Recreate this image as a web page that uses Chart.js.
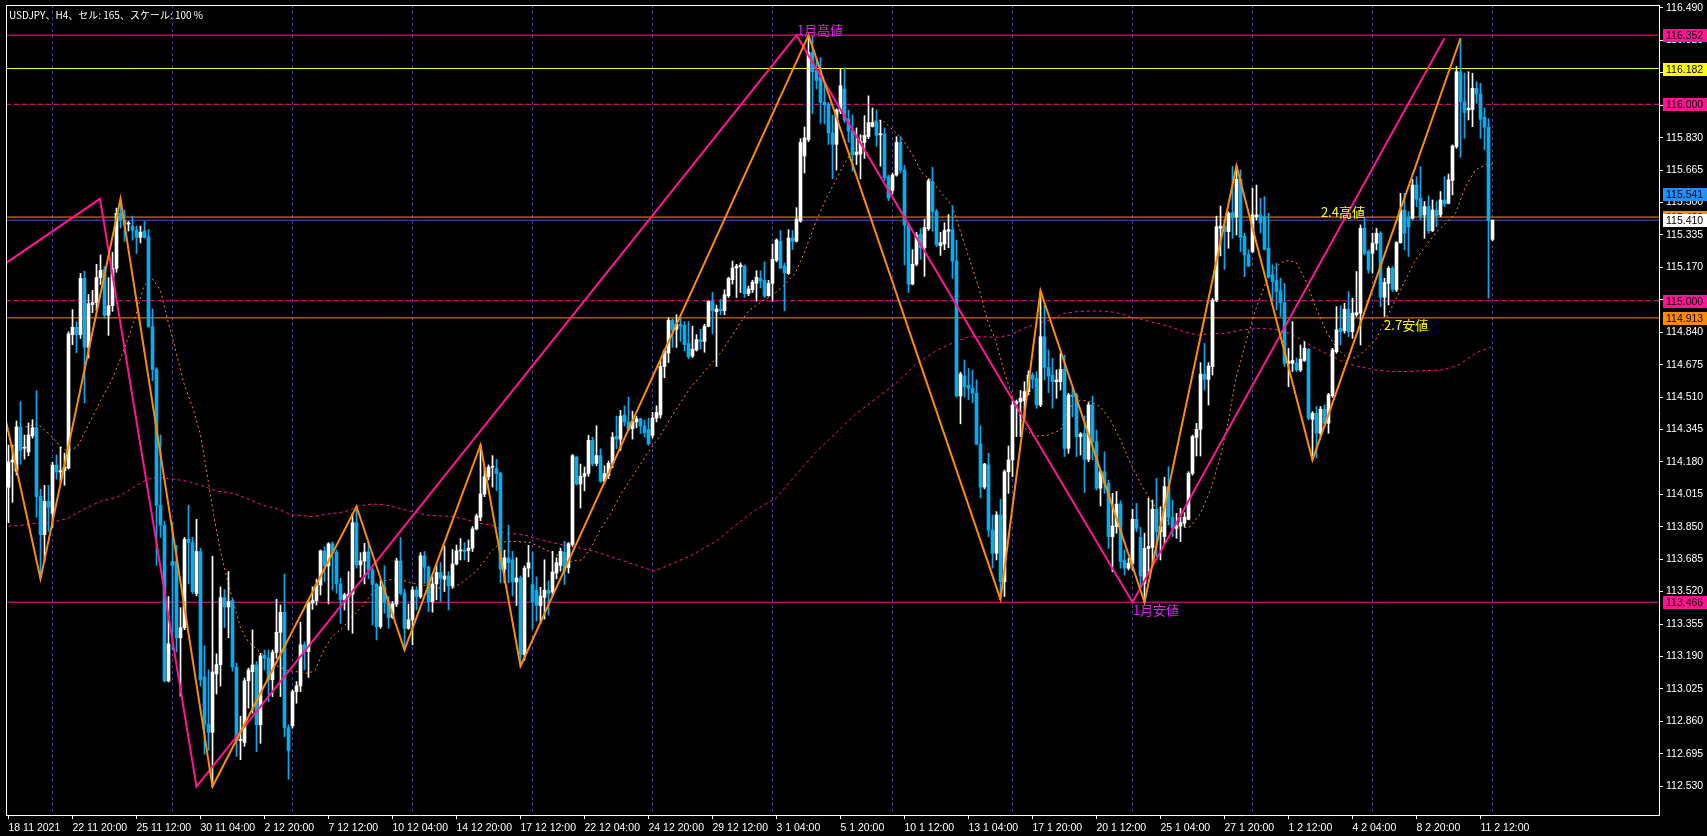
<!DOCTYPE html>
<html>
<head>
<meta charset="utf-8">
<script src="https://cdn.jsdelivr.net/npm/chart.js@4.4.0/dist/chart.umd.min.js"></script>
<style>
  html, body { margin: 0; padding: 0; background: #000; overflow: hidden; }
</style>
</head>
<body>
<canvas id="chart" width="1707" height="836"></canvas>
<script>
// USDJPY H4 candles, bar 0 = 18 11 2021
const opens = [
  114.051,114.180,114.133,114.358,114.250,114.231,114.313,114.354,114.004,113.810,
  113.980,113.918,114.164,114.129,114.135,114.149,114.828,114.865,114.828,115.114,
  114.763,114.981,114.991,115.118,115.159,114.926,114.975,115.165,115.445,115.410,
  115.390,115.380,115.359,115.323,115.355,115.325,114.869,114.650,113.959,113.857,
  113.066,113.673,113.673,113.285,113.336,113.786,113.769,113.510,113.724,113.086,
  112.845,112.804,113.101,113.148,113.489,113.442,113.475,113.136,112.763,112.753,
  113.066,113.113,113.147,112.842,113.196,113.181,113.071,113.210,113.313,113.415,
  112.828,112.837,113.011,113.040,113.249,113.215,113.461,113.474,113.554,113.727,
  113.651,113.763,113.720,113.559,113.478,113.495,113.507,113.871,113.656,113.676,
  113.722,113.630,113.557,113.342,113.545,113.464,113.389,113.457,113.676,113.512,
  113.333,113.376,113.528,113.495,113.702,113.644,113.469,113.559,113.617,113.583,
  113.600,113.549,113.661,113.727,113.732,113.729,113.741,113.839,113.898,114.017,
  114.105,114.153,114.146,114.121,113.634,113.692,113.682,113.569,113.589,113.200,
  113.639,113.556,113.527,113.449,113.491,113.527,113.517,113.614,113.653,113.721,
  113.643,113.760,114.204,114.068,114.107,114.121,114.290,114.173,114.212,114.082,
  114.111,114.173,114.310,114.296,114.419,114.384,114.349,114.384,114.399,114.364,
  114.345,114.315,114.403,114.419,114.666,114.734,114.900,114.855,114.880,114.875,
  114.783,114.719,114.750,114.802,114.793,114.871,114.997,114.945,114.958,114.949,
  115.026,115.108,115.167,115.173,115.176,115.036,115.056,115.089,115.114,115.104,
  115.026,115.089,115.206,115.303,115.176,115.139,115.319,115.303,115.406,115.737,
  115.821,116.263,116.172,116.137,116.010,116.001,115.854,115.796,115.965,116.078,
  115.926,115.864,115.743,115.747,115.806,115.835,115.887,115.913,115.845,115.849,
  115.630,115.562,115.640,115.806,115.665,115.387,115.085,115.186,115.338,115.270,
  115.367,115.607,115.455,115.280,115.289,115.354,115.362,115.202,114.516,114.617,
  114.569,114.555,114.530,114.271,114.052,114.164,113.834,113.715,113.910,113.571,
  114.130,114.190,114.478,114.487,114.492,114.538,114.622,114.605,114.470,114.817,
  114.661,114.622,114.588,114.588,114.651,114.249,114.521,114.521,114.309,114.326,
  114.193,114.470,114.283,114.046,114.130,114.071,113.800,113.851,113.966,113.681,
  113.639,113.664,113.888,113.796,113.562,113.740,113.745,113.939,113.825,113.800,
  114.054,113.898,113.842,113.854,113.868,113.888,114.122,114.305,114.346,114.627,
  114.600,114.665,115.004,115.369,115.380,115.352,115.449,115.428,115.618,115.327,
  115.233,115.250,115.428,115.437,115.428,115.267,115.132,115.103,115.052,114.991,
  114.682,114.682,114.682,114.648,114.696,114.753,114.397,114.428,114.326,114.448,
  114.377,114.516,114.741,114.860,114.848,114.957,114.843,114.928,114.937,115.369,
  115.250,115.242,115.293,115.344,115.018,115.089,115.165,115.055,115.296,115.462,
  115.425,115.420,115.589,115.522,115.437,115.479,115.357,115.462,115.437,115.513,
  115.496,115.612,115.785,116.166,116.013,115.971,115.974,116.081,116.052,115.934,
  115.883,115.313
]
const highs = [
  114.266,114.266,114.388,114.487,114.317,114.378,114.395,114.542,114.041,114.061,
  114.061,114.178,114.215,114.256,114.225,114.842,114.955,114.893,115.139,115.151,
  115.032,115.053,115.186,115.233,115.175,115.118,115.247,115.472,115.519,115.462,
  115.404,115.431,115.380,115.380,115.404,115.363,114.959,114.660,114.317,113.878,
  113.495,113.871,113.755,113.438,113.796,113.959,113.796,113.888,113.741,113.244,
  113.121,113.700,113.203,113.544,113.530,113.622,113.483,113.156,112.886,113.080,
  113.131,113.325,113.164,113.206,113.223,113.223,113.223,113.481,113.452,113.610,
  112.842,113.020,113.062,113.364,113.264,113.478,113.545,113.583,113.732,113.749,
  113.769,113.773,113.732,113.588,113.512,113.622,113.919,113.953,113.718,113.766,
  113.766,113.639,113.562,113.579,113.651,113.495,113.469,113.690,113.795,113.532,
  113.457,113.545,113.545,113.718,113.724,113.651,113.596,113.656,113.668,113.752,
  113.622,113.735,113.757,113.790,113.769,113.783,113.851,113.915,114.266,114.153,
  114.165,114.212,114.193,114.127,113.731,113.858,113.725,113.692,113.600,113.650,
  113.756,113.721,113.595,113.542,113.682,113.575,113.725,113.692,113.741,113.776,
  113.770,114.218,114.208,114.169,114.154,114.315,114.306,114.364,114.247,114.160,
  114.185,114.329,114.413,114.442,114.465,114.510,114.438,114.413,114.403,114.393,
  114.403,114.432,114.465,114.695,114.754,114.913,114.910,114.929,114.919,114.894,
  114.894,114.871,114.828,114.855,114.880,115.001,115.042,114.978,115.007,115.056,
  115.120,115.202,115.186,115.192,115.182,115.075,115.105,115.153,115.153,115.198,
  115.104,115.289,115.315,115.358,115.192,115.362,115.358,115.474,115.825,115.884,
  116.352,116.341,116.234,116.238,116.108,116.010,115.946,115.977,116.180,116.185,
  115.971,115.946,115.880,115.845,115.942,116.043,115.981,115.971,115.919,115.880,
  115.640,115.650,115.835,115.835,115.689,115.397,115.260,115.348,115.367,115.416,
  115.621,115.679,115.465,115.348,115.397,115.439,115.484,115.309,114.637,114.699,
  114.656,114.647,114.598,114.364,114.173,114.224,113.910,113.927,113.990,114.139,
  114.261,114.492,114.495,114.543,114.588,114.644,114.634,114.639,115.051,114.987,
  114.750,114.707,114.648,114.733,114.724,114.529,114.554,114.529,114.329,114.414,
  114.482,114.515,114.342,114.139,114.232,114.088,114.020,114.029,113.983,113.732,
  113.690,113.939,113.969,113.847,113.817,113.995,113.986,114.097,113.952,114.102,
  114.156,113.986,113.918,113.944,113.922,114.130,114.317,114.376,114.685,114.783,
  114.685,115.012,115.431,115.482,115.411,115.453,115.683,115.686,115.666,115.344,
  115.259,115.573,115.589,115.522,115.530,115.445,115.182,115.191,115.115,115.089,
  114.758,114.894,114.708,114.775,114.792,114.758,114.436,114.462,114.462,114.470,
  114.529,114.758,114.970,114.974,114.987,115.047,115.013,115.149,115.386,115.420,
  115.259,115.344,115.369,115.352,115.115,115.174,115.174,115.301,115.547,115.547,
  115.454,115.618,115.631,115.683,115.505,115.534,115.513,115.505,115.556,115.631,
  115.645,115.793,116.192,116.336,116.158,116.166,116.158,116.115,116.107,115.980,
  115.927,115.412
]
const lows = [
  113.871,113.974,114.113,114.168,114.194,114.211,114.301,113.898,113.585,113.673,
  113.826,113.847,114.092,114.072,114.061,114.143,114.777,114.736,114.808,114.480,
  114.709,114.940,114.950,115.083,114.910,114.824,114.946,115.145,115.370,115.302,
  115.355,115.308,115.241,115.294,115.319,114.865,114.593,113.653,113.796,113.060,
  113.060,113.223,113.213,112.988,113.326,113.561,113.510,113.499,113.039,112.692,
  112.712,112.528,112.999,113.039,113.336,113.285,113.115,112.682,112.665,112.733,
  112.927,112.901,112.706,112.748,113.122,112.960,112.986,113.181,112.986,112.782,
  112.565,112.825,112.952,113.011,113.122,113.083,113.430,113.452,113.503,113.571,
  113.457,113.528,113.512,113.359,113.427,113.325,113.308,113.639,113.593,113.559,
  113.586,113.350,113.274,113.333,113.410,113.333,113.384,113.444,113.503,113.223,
  113.328,113.249,113.427,113.486,113.562,113.418,113.415,113.478,113.469,113.520,
  113.427,113.537,113.656,113.681,113.681,113.673,113.724,113.834,113.881,114.003,
  114.088,114.052,114.033,113.565,113.565,113.565,113.497,113.449,113.141,113.170,
  113.595,113.330,113.370,113.360,113.380,113.400,113.497,113.585,113.624,113.556,
  113.614,113.751,114.062,113.945,114.033,114.107,114.160,114.160,114.076,114.072,
  114.095,114.150,114.247,114.238,114.364,114.341,114.296,114.354,114.325,114.306,
  114.265,114.302,114.384,114.403,114.608,114.686,114.763,114.763,114.793,114.744,
  114.705,114.711,114.744,114.754,114.738,114.867,114.832,114.666,114.929,114.929,
  115.017,115.085,115.017,115.042,115.017,115.026,115.042,114.997,115.065,115.017,
  115.023,114.997,115.198,115.163,114.949,115.134,115.260,115.299,115.400,115.650,
  115.810,115.952,116.078,115.903,115.899,115.796,115.621,115.665,115.952,115.907,
  115.806,115.660,115.693,115.621,115.724,115.825,115.884,115.786,115.685,115.611,
  115.510,115.543,115.634,115.650,115.182,115.042,115.081,115.178,115.211,115.124,
  115.358,115.354,115.276,115.231,115.260,115.270,115.114,114.510,114.374,114.510,
  114.497,114.481,114.267,113.998,114.043,113.800,113.639,113.681,113.481,113.495,
  114.020,114.105,114.309,114.309,114.402,114.521,114.554,114.453,114.461,114.597,
  114.532,114.453,114.504,114.546,114.207,114.224,114.410,114.207,114.215,114.024,
  114.181,114.190,114.037,113.956,114.020,113.740,113.622,113.817,113.639,113.605,
  113.630,113.630,113.825,113.549,113.466,113.613,113.647,113.698,113.681,113.766,
  113.859,113.800,113.791,113.774,113.851,113.885,114.113,114.210,114.210,114.546,
  114.470,114.622,114.995,115.228,115.160,115.267,115.318,115.335,115.250,115.123,
  115.174,115.245,115.411,115.344,115.259,115.115,115.004,114.953,114.920,114.665,
  114.563,114.640,114.640,114.640,114.691,114.394,114.190,114.199,114.309,114.360,
  114.326,114.509,114.733,114.775,114.835,114.818,114.809,114.920,114.775,115.233,
  115.140,115.140,115.259,114.970,114.920,114.979,115.047,115.047,115.293,115.259,
  115.225,115.415,115.479,115.411,115.318,115.344,115.352,115.377,115.428,115.479,
  115.493,115.539,115.776,115.730,115.827,115.920,115.886,116.005,115.827,115.768,
  115.013,115.306
]
const closes = [
  114.180,114.190,114.358,114.239,114.255,114.317,114.354,114.004,113.810,113.980,
  113.949,114.164,114.129,114.135,114.153,114.832,114.865,114.828,115.114,114.763,
  114.985,114.991,115.118,115.155,114.926,114.975,115.165,115.445,115.410,115.390,
  115.396,115.359,115.323,115.349,115.323,114.869,114.650,113.959,113.857,113.066,
  113.254,113.653,113.285,113.336,113.786,113.769,113.520,113.724,113.070,112.845,
  112.804,113.111,113.148,113.489,113.442,113.469,113.136,112.763,112.768,113.066,
  113.121,113.147,112.842,113.193,113.181,113.071,113.210,113.313,113.415,112.828,
  112.711,113.011,113.040,113.249,113.215,113.464,113.474,113.554,113.727,113.651,
  113.763,113.720,113.559,113.478,113.503,113.507,113.871,113.656,113.676,113.722,
  113.630,113.557,113.342,113.545,113.464,113.388,113.457,113.676,113.512,113.333,
  113.376,113.528,113.495,113.702,113.644,113.469,113.559,113.617,113.588,113.600,
  113.549,113.661,113.727,113.732,113.724,113.741,113.839,113.905,114.017,114.105,
  114.153,114.158,114.121,113.634,113.692,113.667,113.569,113.589,113.200,113.639,
  113.667,113.468,113.449,113.497,113.527,113.510,113.620,113.667,113.725,113.624,
  113.764,114.212,114.068,114.107,114.121,114.290,114.169,114.212,114.082,114.121,
  114.173,114.306,114.296,114.413,114.384,114.345,114.384,114.399,114.364,114.329,
  114.271,114.403,114.432,114.666,114.744,114.900,114.851,114.880,114.871,114.777,
  114.715,114.754,114.802,114.793,114.871,114.997,114.949,114.958,114.949,115.030,
  115.114,115.167,115.176,115.182,115.036,115.060,115.095,115.120,115.100,115.023,
  115.089,115.211,115.309,115.167,115.143,115.319,115.303,115.416,115.806,115.829,
  116.263,116.166,116.121,116.010,115.997,115.854,115.796,115.971,116.094,115.919,
  115.864,115.743,115.757,115.810,115.841,115.907,115.907,115.841,115.849,115.626,
  115.523,115.640,115.806,115.665,115.387,115.085,115.186,115.334,115.270,115.373,
  115.611,115.455,115.284,115.295,115.358,115.362,115.202,114.516,114.627,114.563,
  114.555,114.530,114.271,114.052,114.169,113.834,113.715,113.910,113.571,114.130,
  114.190,114.470,114.487,114.504,114.538,114.622,114.600,114.470,114.817,114.661,
  114.617,114.588,114.597,114.651,114.249,114.521,114.512,114.309,114.322,114.193,
  114.470,114.283,114.046,114.130,114.071,113.800,113.854,113.966,113.673,113.639,
  113.664,113.888,113.842,113.600,113.740,113.749,113.939,113.825,113.851,114.054,
  113.898,113.842,113.854,113.871,113.898,114.122,114.309,114.346,114.627,114.600,
  114.668,115.004,115.377,115.380,115.352,115.445,115.420,115.618,115.323,115.233,
  115.177,115.437,115.437,115.398,115.262,115.120,115.098,115.047,114.991,114.682,
  114.691,114.696,114.648,114.702,114.758,114.402,114.428,114.326,114.448,114.377,
  114.521,114.750,114.852,114.843,114.957,114.843,114.937,114.940,115.369,115.242,
  115.157,115.293,115.344,115.018,115.093,115.165,115.059,115.296,115.462,115.344,
  115.377,115.589,115.517,115.428,115.479,115.357,115.462,115.432,115.513,115.493,
  115.615,115.788,116.166,116.013,115.958,115.980,116.081,116.052,115.924,115.883,
  115.408,115.410
]

// time axis labels, one every 16 bars
const timeLabels = ['18 11 2021','22 11 20:00','25 11 12:00','30 11 04:00','2 12 20:00','7 12 12:00',
  '10 12 04:00','14 12 20:00','17 12 12:00','22 12 04:00','24 12 20:00','29 12 12:00','3 1 04:00',
  '5 1 20:00','10 1 12:00','13 1 04:00','17 1 20:00','20 1 12:00','25 1 04:00','27 1 20:00',
  '1 2 12:00','4 2 04:00','8 2 20:00','11 2 12:00']
const priceTicks = [112.530,112.695,112.860,113.025,113.190,113.355,113.520,113.685,113.850,114.015,
  114.180,114.345,114.510,114.675,114.840,115.005,115.170,115.335,115.500,115.665,115.830,115.995,
  116.160,116.325,116.490]
const gridBars = [11,41,71,101,131,161,191,221,251,281,311,341,371]

// moving averages [bar, price]
const fastMa = [[4.25,114.358],[7.2,114.374],[10.5,114.317],[13,114.256],[14.7,114.235],[17.2,114.256],
  [19.7,114.358],[23,114.491],[25.5,114.583],[28,114.705],[31.3,114.889],[33.8,115.073],[35.9,115.114],
  [38,115.053],[39.7,114.910],[41.3,114.787],[43.8,114.583],[46.3,114.440],[48,114.317],[49.7,114.113],
  [51.3,113.908],[53,113.724],[54.7,113.581],[56.3,113.458],[58,113.336],[60,113.264],[61.75,113.232],
  [64.25,113.189],[66.75,113.147],[69.25,113.121],[71.75,113.113],[75,113.104],[76.75,113.121],
  [78.4,113.206],[80.9,113.291],[83.4,113.333],[85.9,113.393],[88.4,113.444],[90.9,113.512],
  [93.4,113.571],[95.9,113.583],[98.4,113.579],[100.9,113.562],[103.4,113.554],[105.9,113.545],
  [109.25,113.532],[111.75,113.545],[114.25,113.579],[116.75,113.622],[119.25,113.681],[120.5,113.721],
  [123,113.770],[125.5,113.776],[130.5,113.770],[135.5,113.721],[140.5,113.673],[143.4,113.682],
  [145.5,113.741],[148,113.838],[150.5,113.916],[153,114.014],[155.5,114.091],[158,114.169],
  [160.5,114.247],[163,114.315],[165.5,114.403],[168,114.481],[170.5,114.559],[173,114.617],
  [175.5,114.676],[178,114.734],[180.5,114.812],[183,114.890],[185,114.949],[188.4,114.997],
  [190.9,115.026],[194.25,115.085],[196.75,115.143],[199.25,115.260],[201.75,115.397],[204.25,115.513],
  [206.75,115.611],[209.25,115.708],[211.75,115.786],[214.25,115.864],[216.75,115.919],[218.4,115.919],
  [220.9,115.874],[223.4,115.825],[225.9,115.747],[228.4,115.650],[230.9,115.611],[233.4,115.543],
  [235.9,115.484],[237.6,115.377],[240.1,115.221],[242.6,115.065],[244.7,114.902],[246.75,114.800],
  [248.8,114.648],[251.3,114.495],[253.8,114.359],[256.3,114.309],[259.7,114.317],[263,114.342],
  [265.5,114.461],[268,114.495],[270.5,114.487],[273,114.461],[275.5,114.393],[278,114.292],
  [280.5,114.173],[283,114.071],[285.5,113.986],[288,113.918],[290.5,113.868],[293,113.842],
  [295.5,113.851],[298,113.918],[300.5,114.037],[303,114.207],[305,114.393],[306.75,114.597],
  [309.25,114.784],[311.75,114.953],[314.25,115.089],[316.75,115.174],[319.25,115.205],[321.75,115.199],
  [324.25,115.106],[326.75,114.970],[329.25,114.852],[331.75,114.767],[334.25,114.716],[336.75,114.708],
  [339.25,114.750],[341.75,114.801],[344.25,114.903],[346.75,115.004],[349.25,115.106],[351.75,115.208],
  [354.25,115.276],[356.75,115.344],[359.25,115.394],[361.75,115.445],[364.25,115.581],[366.75,115.666],
  [369.25,115.691],[371,115.696]]
const slowMa = [[0,113.853],[3,113.857],[6.3,113.867],[10.5,113.871],[14.7,113.892],[18.8,113.939],
  [23,113.980],[27.2,114.000],[31.3,114.051],[34.7,114.092],[37.2,114.102],[41.3,114.092],[44.7,114.082],
  [48,114.061],[52.2,114.031],[56.3,114.020],[60.5,113.986],[63.4,113.961],[67.6,113.939],[70.9,113.910],
  [75.9,113.902],[80.1,113.915],[84.25,113.927],[87.6,113.956],[90.9,113.966],[94.25,113.961],
  [97.6,113.944],[100.9,113.927],[104.25,113.910],[107.6,113.905],[110.9,113.902],[114.25,113.888],
  [117.6,113.868],[121.75,113.854],[123.8,113.819],[128.8,113.809],[133.8,113.780],[138,113.760],
  [143,113.741],[147.2,113.721],[152.2,113.686],[157.2,113.653],[161.3,113.624],[163.8,113.643],
  [167.2,113.673],[170.5,113.702],[173.8,113.741],[177.2,113.780],[181.75,113.858],[186.75,113.936],
  [191.75,113.994],[196.75,114.111],[201.75,114.228],[206.75,114.325],[211.75,114.423],[216.75,114.500],
  [221.75,114.578],[226.75,114.676],[231.75,114.744],[236.75,114.793],[240.1,114.816],[243,114.817],
  [247.2,114.814],[250.5,114.826],[253.8,114.860],[257.2,114.885],[260.5,114.902],[263.8,114.936],
  [267.2,114.945],[270.5,114.948],[273.8,114.948],[277.2,114.939],[280.5,114.919],[283.8,114.902],
  [287.2,114.885],[290.5,114.868],[293.8,114.843],[297.2,114.826],[301.3,114.834],[304.25,114.835],
  [308.4,114.852],[312.6,114.860],[316.75,114.855],[320.1,114.835],[323.4,114.801],[326.75,114.758],
  [330.1,114.725],[333.4,114.691],[337.6,114.665],[341.75,114.648],[345.9,114.640],[350.1,114.640],
  [354.25,114.645],[358.4,114.648],[362.6,114.674],[366.75,114.733],[370.5,114.764]]

// zigzag swing points [bar, price]
const zigzagOrange = [[-0.625,114.388],[8,113.585],[28,115.519],[51,112.528],[87,113.953],[99,113.223],
  [118,114.266],[128,113.141],[200,116.352],[248,113.481],[258,115.051],[284,113.466],[307,115.686],
  [326,114.190],[363,116.336]]
const zigzagPink = [[-0.625,115.192],[22.875,115.519],[47,112.528],[197,116.352],[281,113.466],[359,116.336]]

// horizontal levels and the right-hand price tags
const levelPrices = [116.352, 116.182, 116.000, 115.426, 115.410, 115.000, 114.913, 113.466]
const tagPrices = [116.352, 116.182, 116.000, 115.541, 115.426, 115.410, 115.000, 114.913, 113.466]
const noteTexts = ['1月高値', '1月安値', '2.4高値', '2.7安値']
const noteBars = [197.1, 281.1, 328.1, 343.9]
const notePrices = [116.352, 113.466, 115.426, 114.913]
const chartTitle = 'USDJPY、H4、セル: 165、スケール: 100 %'

// ---- styling ----
const X_MIN = -0.625, X_MAX = 412.625
const Y_MAX = 116.49 + 3 / 196.5, Y_MIN = Y_MAX - 810 / 196.5
const BULL = '#ffffff', BEAR = '#05aef0'
const PINK = '#ff1493', ORANGE = '#ff8c00'
const levelLook = [
  { color: PINK }, { color: '#ffff00' }, { color: PINK, dash: [5, 3] }, { color: ORANGE },
  { color: '#5a50b4' }, { color: PINK, dash: [5, 3] }, { color: ORANGE }, { color: PINK }
]
const tagColors = [PINK, '#ffff00', PINK, '#1e90ff', ORANGE, '#ffffff', PINK, ORANGE, PINK]
const noteColors = ['#e81ee8', '#e81ee8', '#ffff00', '#ffff00']
const noteBase = ['bottom', 'top', 'bottom', 'top']
const axisFont = { family: 'Liberation Sans', size: 10.5 }

const idx = opens.map((_, i) => i)
const candleColor = idx.map(i => closes[i] >= opens[i] ? BULL : BEAR)
const pts = arr => arr.map(p => ({ x: p[0], y: p[1] }))

const datasets = []
datasets.push({ type: 'line', data: pts(zigzagOrange), borderColor: ORANGE, borderWidth: 2, pointRadius: 0, order: 0, clip: 0 })
datasets.push({ type: 'line', data: pts(zigzagPink), borderColor: PINK, borderWidth: 2, pointRadius: 0, order: 0, clip: 0 })
datasets.push({ type: 'bar', data: idx.map(i => ({ x: i, y: [opens[i], closes[i]] })), backgroundColor: candleColor,
  barThickness: 3, minBarLength: 1, grouped: false, borderWidth: 0, order: 1 })
datasets.push({ type: 'bar', data: idx.map(i => ({ x: i, y: [lows[i], highs[i]] })), backgroundColor: candleColor,
  barThickness: 1, minBarLength: 1, grouped: false, borderWidth: 0, order: 2 })
datasets.push({ type: 'line', data: pts(fastMa), borderColor: ORANGE, borderWidth: 1, borderDash: [2, 3], pointRadius: 0, order: 3, clip: 0 })
datasets.push({ type: 'line', data: pts(slowMa), borderColor: PINK, borderWidth: 1, borderDash: [3, 3], pointRadius: 0, order: 3, clip: 0 })
levelPrices.forEach((p, k) => {
  datasets.push({ type: 'line', data: [{ x: X_MIN, y: p }, { x: X_MAX, y: p }], borderColor: levelLook[k].color,
    borderDash: levelLook[k].dash || [], borderWidth: 1, pointRadius: 0, order: 4, clip: 0 })
})

// frame, title, notes and price tags on top of everything
const overlay = {
  id: 'overlay',
  afterDraw(chart) {
    const { ctx, chartArea: a, scales: { x, y } } = chart
    ctx.save()
    ctx.fillStyle = '#fff'
    ctx.fillRect(a.left, a.top, a.right - a.left, 1)
    ctx.fillRect(a.left, a.top, 1, a.bottom - a.top)

    ctx.font = '10px "Noto Sans CJK JP"'
    ctx.textAlign = 'left'
    ctx.textBaseline = 'middle'
    ctx.fillText(chartTitle, 9, 15)

    ctx.font = '13px "Noto Sans CJK JP"'
    noteTexts.forEach((t, k) => {
      ctx.fillStyle = noteColors[k]
      ctx.textBaseline = noteBase[k]
      const py = y.getPixelForValue(notePrices[k])
      ctx.fillText(t, x.getPixelForValue(noteBars[k]), py + 1)
    })

    ctx.font = axisFont.size + 'px "' + axisFont.family + '"'
    ctx.textBaseline = 'middle'
    tagPrices.forEach((p, k) => {
      const py = Math.round(y.getPixelForValue(p))
      ctx.fillStyle = tagColors[k]
      ctx.fillRect(a.right + 4, py - 6, 44, 13)
      ctx.fillStyle = '#000'
      ctx.fillText(p.toFixed(3), a.right + 7, py + 1)
    })
    ctx.restore()
  }
}

new Chart(document.getElementById('chart'), {
  type: 'bar',
  data: { datasets },
  options: {
    responsive: false, animation: false, devicePixelRatio: 1, events: [],
    layout: { padding: { left: 6, top: 5, right: 0, bottom: 0 } },
    plugins: { legend: { display: false }, tooltip: { enabled: false } },
    scales: {
      x: {
        type: 'linear', position: 'bottom', min: X_MIN, max: X_MAX, offset: false,
        afterBuildTicks: s => { s.ticks = timeLabels.map((_, k) => ({ value: k * 16 })) },
        afterFit: s => { s.height = 21; s.paddingLeft = 0; s.paddingRight = 0 },
        ticks: { callback: (v, k) => timeLabels[k], color: '#fff', font: axisFont, padding: 3,
          autoSkip: false, maxRotation: 0, minRotation: 0, align: 'start' },
        grid: { drawOnChartArea: false, color: '#fff', tickLength: 4, offset: false },
        border: { color: '#fff' }
      },
      xg: {
        type: 'linear', position: 'bottom', min: X_MIN, max: X_MAX, offset: false,
        afterBuildTicks: s => { s.ticks = gridBars.map(v => ({ value: v })) },
        afterFit: s => { s.height = 0; s.paddingLeft = 0; s.paddingRight = 0 },
        ticks: { display: false },
        grid: { drawTicks: false, color: '#40409a', offset: false },
        border: { display: false, dash: [3, 3] }
      },
      y: {
        type: 'linear', position: 'right', min: Y_MIN, max: Y_MAX,
        afterBuildTicks: s => { s.ticks = priceTicks.map(v => ({ value: v })) },
        afterFit: s => { s.width = 48; s.paddingTop = 0; s.paddingBottom = 0 },
        ticks: { callback: v => v.toFixed(3), color: '#fff', font: axisFont, padding: 3, autoSkip: false },
        grid: { drawOnChartArea: false, color: '#fff', tickLength: 4 },
        border: { color: '#fff' }
      }
    }
  },
  plugins: [overlay]
})
</script>
</body>
</html>
